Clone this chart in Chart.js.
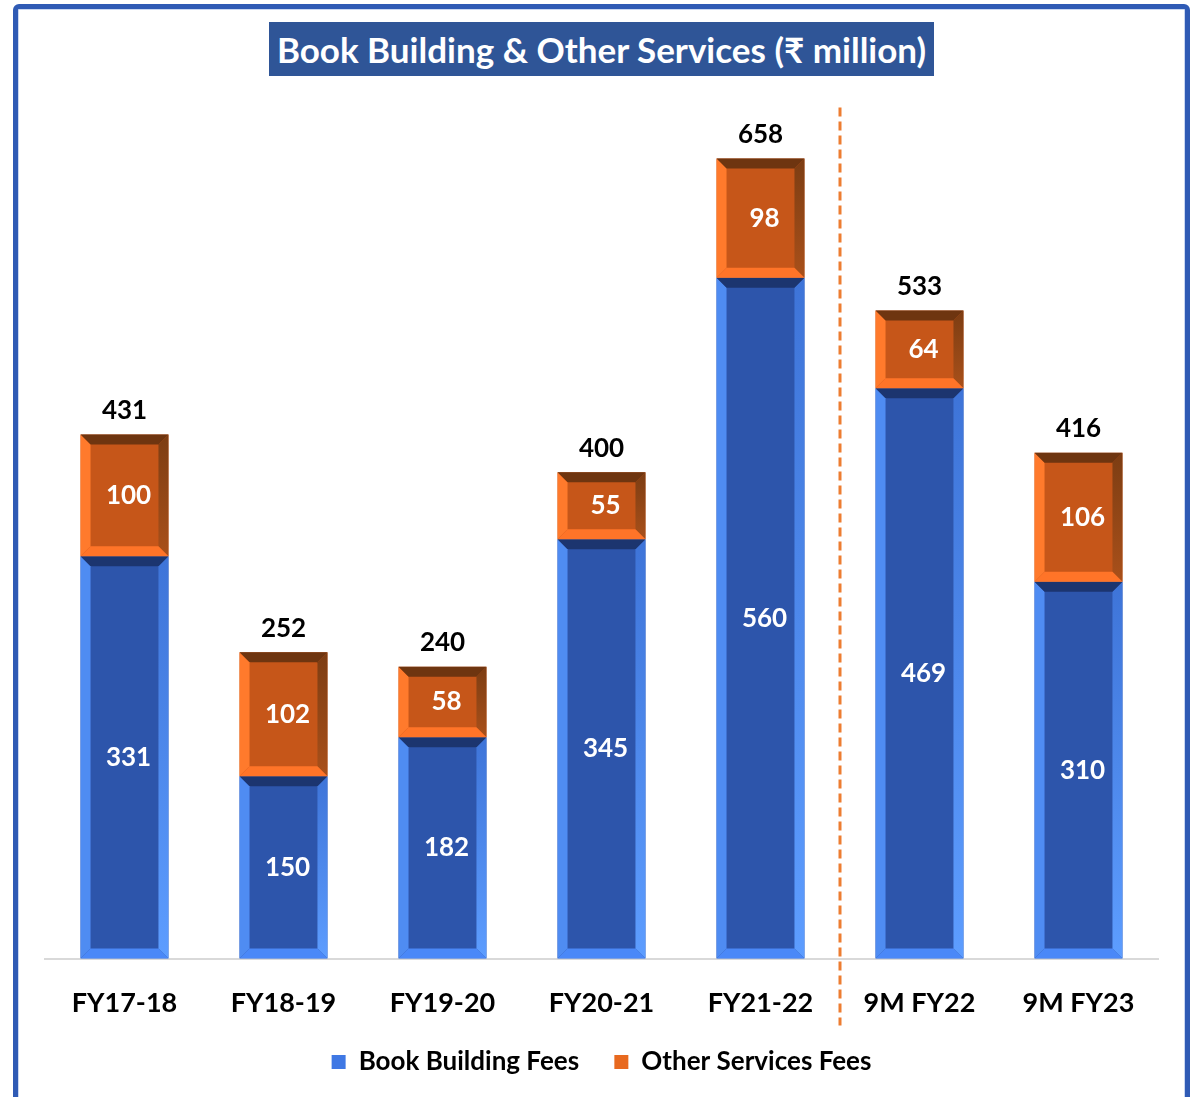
<!DOCTYPE html>
<html>
<head>
<meta charset="utf-8">
<script src="https://cdn.jsdelivr.net/npm/chart.js@4.4.1/dist/chart.umd.min.js"></script>
<style>
  html, body { margin: 0; padding: 0; background: #fff; overflow: hidden; }
  #wrap { position: relative; width: 1195px; height: 1097px; overflow: hidden; }
  #frame {
    position: absolute; left: 13px; top: 4px; width: 1167px; height: 1200px;
    border: 5px solid #2F5BB5; border-radius: 6px;
    box-shadow: inset 0 0 0 1px #C9D7F2;
  }
  #title {
    position: absolute; left: 269px; top: 22px; width: 665px; height: 54px;
    background: #2F5597; color: #fff; font: bold 35px Lato, "Noto Sans", sans-serif;
    line-height: 54px; text-align: center; white-space: nowrap;
  }
  #chart { position: absolute; left: 0; top: 0; }
</style>
</head>
<body>
<div id="wrap">
  <div id="frame"></div>
  <div id="title">Book Building &amp; Other Services (₹ million)</div>
  <canvas id="chart" width="1195" height="1097"></canvas>
</div>
<script>
// data
var categories = ['FY17-18', 'FY18-19', 'FY19-20', 'FY20-21', 'FY21-22', '9M FY22', '9M FY23'];
var bookBuilding = [331, 150, 182, 345, 560, 469, 310];
var otherServices = [100, 102, 58, 55, 98, 64, 106];
var totals = [431, 252, 240, 400, 658, 533, 416];

var fontFamily = 'Lato, "Noto Sans", sans-serif';

// bevel colours per dataset: top, left, bottom, right(top->bottom)
var bevels = [
    {top: '#1C356F', left: '#4F8CF2', bottom: '#4A88F8', right: ['#3E74D8', '#5D9DFF']},
    {top: '#6E3510', left: '#FF7A2C', bottom: '#FF7428', right: ['#7C3D13', '#A9501A']}
];

var bevelPlugin = {
    id: 'bevel',
    afterDatasetsDraw: function(chart){
        var ctx = chart.ctx;
        chart.data.datasets.forEach(function(ds, di){
            var meta = chart.getDatasetMeta(di);
            var c = bevels[di];
            meta.data.forEach(function(bar){
                var p = bar.getProps(['x', 'y', 'base', 'width'], true);
                var l = p.x - p.width / 2, r = p.x + p.width / 2;
                var t = Math.min(p.y, p.base), b = Math.max(p.y, p.base);
                var s = 10;
                ctx.save();
                function poly(pts, fill){
                    ctx.beginPath();
                    ctx.moveTo(pts[0][0], pts[0][1]);
                    for(var i = 1; i < pts.length; i++) ctx.lineTo(pts[i][0], pts[i][1]);
                    ctx.closePath();
                    ctx.fillStyle = fill;
                    ctx.fill();
                }
                var g = ctx.createLinearGradient(0, t, 0, b);
                g.addColorStop(0, c.right[0]);
                g.addColorStop(1, c.right[1]);
                poly([[l, t], [l + s, t + s], [l + s, b - s], [l, b]], c.left);
                poly([[r, t], [r - s, t + s], [r - s, b - s], [r, b]], g);
                poly([[l, b], [r, b], [r - s, b - s], [l + s, b - s]], c.bottom);
                poly([[l, t], [r, t], [r - s, t + s], [l + s, t + s]], c.top);
                ctx.restore();
            });
        });
    }
};

var labelPlugin = {
    id: 'labels',
    afterDraw: function(chart){
        var ctx = chart.ctx;
        var xs = chart.scales.x;
        ctx.save();
        // dashed divider between FY21-22 and 9M FY22
        var xd = (xs.getPixelForValue(4) + xs.getPixelForValue(5)) / 2;
        ctx.strokeStyle = '#ED7D31';
        ctx.lineWidth = 3;
        ctx.setLineDash([9, 5]);
        ctx.beginPath();
        ctx.moveTo(xd, chart.chartArea.top);
        ctx.lineTo(xd, chart.chartArea.bottom + 67);
        ctx.stroke();
        ctx.setLineDash([]);

        ctx.textAlign = 'center';
        ctx.textBaseline = 'middle';
        ctx.font = 'bold 26px ' + fontFamily;
        chart.data.datasets.forEach(function(ds, di){
            var meta = chart.getDatasetMeta(di);
            meta.data.forEach(function(bar, i){
                var p = bar.getProps(['x', 'y', 'base'], true);
                ctx.fillStyle = '#FFFFFF';
                ctx.fillText(ds.data[i], p.x + 4, (p.y + p.base) / 2);
            });
        });
        var top = chart.getDatasetMeta(1);
        top.data.forEach(function(bar, i){
            var p = bar.getProps(['x', 'y'], true);
            ctx.fillStyle = '#000000';
            ctx.fillText(totals[i], p.x, p.y - 24);
        });
        ctx.restore();
    }
};

new Chart(document.getElementById('chart'), {
    type: 'bar',
    data: {
        labels: categories,
        datasets: [
            {label: 'Book Building Fees', data: bookBuilding, backgroundColor: '#2D55AB'},
            {label: 'Other Services Fees', data: otherServices, backgroundColor: '#C65619'}
        ]
    },
    options: {
        responsive: false,
        animation: false,
        events: [],
        layout: {padding: {left: 45, right: 37, top: 107.5, bottom: 12}},
        datasets: {bar: {categoryPercentage: 1, barPercentage: 0.553}},
        scales: {
            x: {
                stacked: true,
                grid: {display: false},
                border: {display: true, color: '#D9D9D9', width: 2},
                ticks: {color: '#000', padding: 20, font: {family: fontFamily, size: 27, weight: 'bold'}}
            },
            y: {
                stacked: true,
                display: false,
                min: 0,
                max: 700
            }
        },
        plugins: {
            legend: {
                position: 'bottom',
                labels: {
                    color: '#000',
                    boxWidth: 14,
                    boxHeight: 14,
                    padding: 10,
                    font: {family: fontFamily, size: 26, weight: 'bold'},
                    generateLabels: function(chart){
                        var fills = ['#3F78E4', '#E8691F'];
                        return chart.data.datasets.map(function(ds, i){
                            // trailing spaces widen the gap between the two items
                            var text = i == 0 ? ds.label + '    ' : ds.label;
                            return {text: text, fillStyle: fills[i], strokeStyle: fills[i], lineWidth: 0, datasetIndex: i, fontColor: '#000'};
                        });
                    }
                }
            },
            title: {display: false},
            tooltip: {enabled: false}
        }
    },
    plugins: [bevelPlugin, labelPlugin]
});
</script>
</body>
</html>
